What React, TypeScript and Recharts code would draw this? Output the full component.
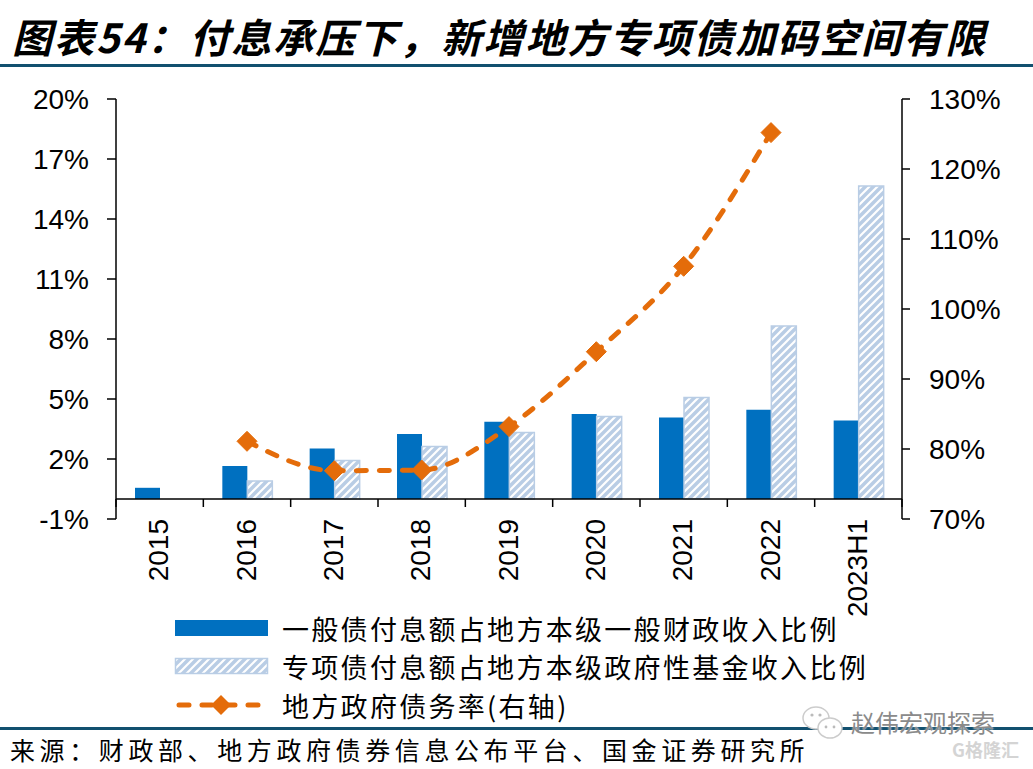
import React from 'react'
import { Bar, ComposedChart, Line, ReferenceLine, XAxis, YAxis } from 'recharts'

// 数据
const CATEGORIES = ['2015', '2016', '2017', '2018', '2019', '2020', '2021', '2022', '2023H1']
const GENERAL_RATIO = [0.56, 1.65, 2.53, 3.25, 3.86, 4.25, 4.08, 4.46, 3.93]
const SPECIAL_RATIO = [null, 0.9, 1.92, 2.63, 3.33, 4.12, 5.07, 8.65, 15.65]
const DEBT_RATE = [null, 81.1, 76.9, 77.0, 83.2, 93.9, 106.1, 125.2, null]
const LEFT_TICKS = [-1, 2, 5, 8, 11, 14, 17, 20]
const RIGHT_TICKS = [70, 80, 90, 100, 110, 120, 130]
const SERIES_NAMES = [
  '一般债付息额占地方本级一般财政收入比例',
  '专项债付息额占地方本级政府性基金收入比例',
  '地方政府债务率(右轴)',
]
const TITLE = '图表54：付息承压下，新增地方专项债加码空间有限'
const SOURCE = '来源：财政部、地方政府债券信息公布平台、国金证券研究所'

const BLUE = '#0070C0'
const HATCH = '#B9CDE5'
const ORANGE = '#E46C0A'
const RULE = '#12506F'

const W = 1033
const H = 769
const PLOT_LEFT = 116
const PLOT_RIGHT = 902
const PLOT_TOP = 99
const PLOT_BOTTOM = 519
const BAND = (PLOT_RIGHT - PLOT_LEFT) / CATEGORIES.length
const ZERO_Y = PLOT_BOTTOM - (PLOT_BOTTOM - PLOT_TOP) * (0 - LEFT_TICKS[0]) / (LEFT_TICKS[LEFT_TICKS.length - 1] - LEFT_TICKS[0])

const data = CATEGORIES.map((year, i) => ({
  year,
  general: GENERAL_RATIO[i],
  special: SPECIAL_RATIO[i],
  rate: DEBT_RATE[i],
}))

const AXIS_FONT = '"Liberation Sans", Arial, sans-serif'
const CJK_FONT = '"Noto Sans CJK SC", "Noto Sans", sans-serif'

function YearTick(props: any) {
  const { x, y, payload, index } = props
  const last = index === CATEGORIES.length - 1
  return (
    <g>
      <line x1={x - BAND / 2} x2={x - BAND / 2} y1={ZERO_Y} y2={ZERO_Y + 8} stroke="#000" strokeWidth={1.5} />
      {last && <line x1={x + BAND / 2} x2={x + BAND / 2} y1={ZERO_Y} y2={ZERO_Y + 8} stroke="#000" strokeWidth={1.5} />}
      <text
        x={x - 1}
        y={y}
        transform={`rotate(-90 ${x - 1} ${y})`}
        textAnchor="end"
        dominantBaseline="central"
        fontSize={28}
        fontFamily={AXIS_FONT}
        fill="#000"
      >
        {payload.value}
      </text>
    </g>
  )
}

function Diamond(props: any) {
  const { cx, cy, index } = props
  if (cx == null || cy == null) return <g key={`d-${index}`} />
  const r = 10
  return (
    <path
      key={`d-${index}`}
      d={`M${cx},${cy - r}L${cx + r},${cy}L${cx},${cy + r}L${cx - r},${cy}Z`}
      fill={ORANGE}
      stroke={ORANGE}
      strokeWidth={1}
    />
  )
}

function LegendRow({ top, kind, label }: { top: number; kind: 'bar' | 'hatch' | 'line'; label: string }) {
  return (
    <div style={{ position: 'absolute', left: 172, top, height: 36, display: 'flex', alignItems: 'center' }}>
      <svg width={100} height={36} style={{ display: 'block' }}>
        {kind === 'bar' && <rect x={3} y={10} width={93} height={16} fill={BLUE} />}
        {kind === 'hatch' && <rect x={3.5} y={10.5} width={92} height={15} fill="url(#hatch)" stroke={HATCH} strokeWidth={1.5} />}
        {kind === 'line' && (
          <g>
            <line x1={7} x2={93} y1={18} y2={18} stroke={ORANGE} strokeWidth={5} strokeDasharray="10 13" strokeLinecap="round" />
            <path d="M49,8L59,18L49,28L39,18Z" fill={ORANGE} />
          </g>
        )}
      </svg>
      <span style={{ marginLeft: 10, fontSize: 27, letterSpacing: 2.3, fontFamily: CJK_FONT, color: '#000', whiteSpace: 'nowrap' }}>
        {label}
      </span>
    </div>
  )
}

export default function App() {
  return (
    <div style={{ position: 'absolute', left: 0, top: 0, width: W, height: H, background: '#fff', overflow: 'hidden' }}>
      <div style={{ position: 'absolute', left: 0, top: 0 }}>
        <ComposedChart
          width={W}
          height={H}
          data={data}
          margin={{ top: PLOT_TOP, bottom: H - PLOT_BOTTOM - 50, left: PLOT_LEFT - 80, right: W - PLOT_RIGHT - 80 }}
          barGap={0}
        >
          <defs>
            <pattern id="hatch" patternUnits="userSpaceOnUse" width={8} height={8}>
              <rect width={8} height={8} fill={HATCH} />
              <path d="M-2,10L10,-2M-2,2L2,-2M6,10L10,6" stroke="#fff" strokeWidth={2.2} />
            </pattern>
          </defs>
          <XAxis
            dataKey="year"
            xAxisId="x"
            height={50}
            axisLine={false}
            tickLine={false}
            tickSize={0}
            tickMargin={0}
            interval={0}
            tick={<YearTick />}
          />
          <YAxis
            yAxisId="left"
            orientation="left"
            width={80}
            domain={[LEFT_TICKS[0], LEFT_TICKS[LEFT_TICKS.length - 1]]}
            ticks={LEFT_TICKS}
            tickFormatter={(v: number) => `${v}%`}
            axisLine={{ stroke: '#000', strokeWidth: 1.5 }}
            tickLine={{ stroke: '#000', strokeWidth: 1.5 }}
            tickSize={9}
            tickMargin={18}
            tick={{ fill: '#000', fontSize: 28, fontFamily: AXIS_FONT }}
            allowDataOverflow
          />
          <YAxis
            yAxisId="right"
            orientation="right"
            width={80}
            domain={[RIGHT_TICKS[0], RIGHT_TICKS[RIGHT_TICKS.length - 1]]}
            ticks={RIGHT_TICKS}
            tickFormatter={(v: number) => `${v}%`}
            axisLine={{ stroke: '#000', strokeWidth: 1.5 }}
            tickLine={{ stroke: '#000', strokeWidth: 1.5 }}
            tickSize={8}
            tickMargin={19}
            tick={{ fill: '#000', fontSize: 28, fontFamily: AXIS_FONT, textAnchor: 'start' }}
            allowDataOverflow
          />
          <Bar xAxisId="x" yAxisId="left" dataKey="general" name={SERIES_NAMES[0]} fill={BLUE} barSize={25} isAnimationActive={false} />
          <Bar
            xAxisId="x"
            yAxisId="left"
            dataKey="special"
            name={SERIES_NAMES[1]}
            fill="url(#hatch)"
            stroke={HATCH}
            strokeWidth={1.5}
            barSize={25}
            isAnimationActive={false}
          />
          <ReferenceLine xAxisId="x" yAxisId="left" y={0} stroke="#000" strokeWidth={1.5} />
          <Line
            xAxisId="x"
            yAxisId="right"
            dataKey="rate"
            name={SERIES_NAMES[2]}
            type="monotone"
            stroke={ORANGE}
            strokeWidth={5}
            strokeDasharray="10 13"
            strokeLinecap="round"
            dot={Diamond}
            activeDot={false}
            isAnimationActive={false}
          />
        </ComposedChart>
      </div>

      <div
        style={{
          position: 'absolute',
          left: 12,
          top: 12,
          fontSize: 40,
          fontWeight: 700,
          fontStyle: 'italic',
          letterSpacing: 2,
          fontFamily: CJK_FONT,
          color: '#000',
          whiteSpace: 'nowrap',
          lineHeight: '48px',
        }}
      >
        {TITLE}
      </div>
      <div style={{ position: 'absolute', left: 0, top: 64, width: W, height: 3, background: RULE }} />

      <LegendRow top={610} kind="bar" label={SERIES_NAMES[0]} />
      <LegendRow top={648} kind="hatch" label={SERIES_NAMES[1]} />
      <LegendRow top={687} kind="line" label={SERIES_NAMES[2]} />

      <div style={{ position: 'absolute', left: 0, top: 727, width: W, height: 3, background: RULE }} />
      <div
        style={{
          position: 'absolute',
          left: 10,
          top: 733,
          fontSize: 25,
          letterSpacing: 4.6,
          fontFamily: CJK_FONT,
          color: '#000',
          whiteSpace: 'nowrap',
          lineHeight: '32px',
        }}
      >
        {SOURCE}
      </div>

      <svg style={{ position: 'absolute', left: 800, top: 704 }} width={48} height={40}>
        <ellipse cx={16} cy={14} rx={13} ry={11} fill="#fff" stroke="#ccc" strokeWidth={1.5} />
        <ellipse cx={30} cy={24} rx={12} ry={10} fill="#fff" stroke="#ccc" strokeWidth={1.5} />
        <circle cx={12} cy={11} r={1.6} fill="#bbb" />
        <circle cx={20} cy={11} r={1.6} fill="#bbb" />
        <circle cx={26} cy={23} r={1.4} fill="#bbb" />
        <circle cx={34} cy={23} r={1.4} fill="#bbb" />
      </svg>
      <div
        style={{
          position: 'absolute',
          left: 851,
          top: 707,
          fontSize: 24,
          fontFamily: CJK_FONT,
          color: '#8a8a8a',
          whiteSpace: 'nowrap',
          lineHeight: '30px',
          textShadow: '0 0 2px #fff',
        }}
      >
        赵伟宏观探索
      </div>
      <div
        style={{
          position: 'absolute',
          left: 952,
          top: 737,
          fontSize: 18,
          fontWeight: 700,
          fontFamily: CJK_FONT,
          color: '#d4d4d4',
          whiteSpace: 'nowrap',
          lineHeight: '24px',
        }}
      >
        G格隆汇
      </div>
    </div>
  )
}
